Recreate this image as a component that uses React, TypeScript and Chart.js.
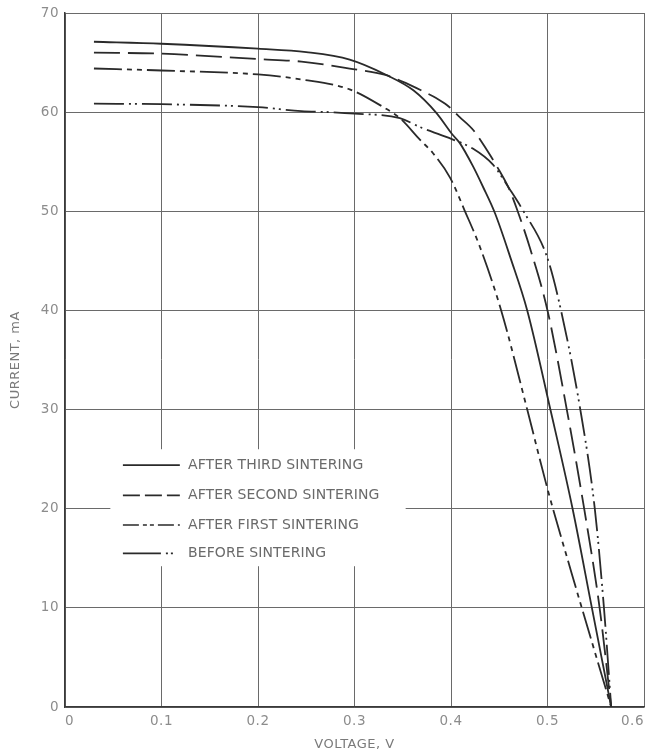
import React, { useEffect, useRef } from 'react';
import { Chart, registerables } from 'chart.js';

Chart.register(...registerables);

// ---- Data (voltage in V, current in mA) ----
const thirdV = [0.03, 0.1, 0.2, 0.25, 0.295, 0.332, 0.361, 0.385, 0.401, 0.409, 0.423, 0.433, 0.4456, 0.462, 0.479, 0.503, 0.526, 0.546, 0.566];
const thirdI = [67.1, 66.9, 66.4, 66.05, 65.3, 63.8, 62.2, 59.9, 57.8, 56.9, 54.5, 52.5, 49.8, 45.2, 40, 30, 20, 10, 0];

const secondV = [0.03, 0.1, 0.2, 0.245, 0.295, 0.332, 0.354, 0.371, 0.385, 0.396, 0.409, 0.423, 0.437, 0.4477, 0.46, 0.468, 0.4815, 0.5, 0.52, 0.538, 0.554, 0.566];
const secondI = [66.0, 65.9, 65.35, 65.1, 64.4, 63.75, 62.9, 62.1, 61.4, 60.7, 59.5, 58.2, 56.2, 54.5, 52.3, 50.3, 46.4, 40, 30, 20, 10, 0];

const firstV = [0.03, 0.1, 0.2, 0.245, 0.295, 0.33, 0.347, 0.368, 0.381, 0.399, 0.4145, 0.43, 0.452, 0.479, 0.5, 0.525, 0.566];
const firstI = [64.4, 64.2, 63.8, 63.3, 62.3, 60.5, 59.4, 57.2, 55.9, 53.4, 50.0, 46.4, 40, 30, 22, 13.5, 0];

const beforeV = [0.03, 0.1, 0.2, 0.245, 0.275, 0.3, 0.347, 0.37, 0.395, 0.423, 0.4435, 0.461, 0.4745, 0.4995, 0.514, 0.534, 0.549, 0.5585, 0.566];
const beforeI = [60.85, 60.8, 60.5, 60.1, 60.0, 59.85, 59.4, 58.4, 57.5, 56.3, 54.7, 52.2, 50.1, 45.4, 40, 30, 20, 10, 0];

const seriesLabels = ['AFTER THIRD SINTERING', 'AFTER SECOND SINTERING', 'AFTER FIRST SINTERING', 'BEFORE SINTERING'];

const xTicks = { min: 0, max: 0.6, step: 0.1 };
const yTicks = { min: 0, max: 70, step: 10 };

// ---- Styles ----
const LINE_COLOR = '#2a2a2a';
const dashes = [[], [26, 8], [28, 5, 5, 5, 5, 5], [30, 5, 2, 4, 2, 5]];
const legendDashes = [[], [17, 5], [16, 4, 4, 3, 4, 4], [38, 5, 2, 3, 2, 10]];

function pts(xs: number[], ys: number[]) {
  return xs.map((x, i) => ({ x, y: ys[i] }));
}

const spacingPlugin = {
  id: 'letterSpacing',
  beforeDraw(chart: any) {
    try { (chart.ctx as any).letterSpacing = '0.5px'; } catch (e) {}
  },
};

const legendPlugin = {
  id: 'boxLegend',
  afterDatasetsDraw(chart: any) {
    const { ctx, scales } = chart;
    const xs = scales.x;
    const ys = scales.y;
    const bx0 = xs.getPixelForValue(0.047);
    const bx1 = xs.getPixelForValue(0.353);
    const by0 = ys.getPixelForValue(26.0);
    const by1 = ys.getPixelForValue(14.2);
    ctx.save();
    ctx.fillStyle = '#ffffff';
    ctx.fillRect(bx0, by0, bx1 - bx0, by1 - by0);
    const rows = [24.4, 21.35, 18.35, 15.5];
    const lx0 = xs.getPixelForValue(0.06);
    const lx1 = xs.getPixelForValue(0.119);
    const tx = xs.getPixelForValue(0.1275);
    ctx.font = '14px "DejaVu Sans"';
    try { (ctx as any).letterSpacing = '0.1px'; } catch (e) {}
    ctx.textBaseline = 'middle';
    ctx.textAlign = 'left';
    rows.forEach((rv, i) => {
      const py = ys.getPixelForValue(rv);
      ctx.strokeStyle = LINE_COLOR;
      ctx.lineWidth = 1.6;
      ctx.setLineDash(legendDashes[i]);
      ctx.beginPath();
      ctx.moveTo(lx0, py);
      ctx.lineTo(lx1, py);
      ctx.stroke();
      ctx.setLineDash([]);
      ctx.fillStyle = '#6a6a6a';
      ctx.fillText(seriesLabels[i], tx, py);
    });
    ctx.restore();
  },
};

export default function App() {
  const ref = useRef<HTMLCanvasElement | null>(null);
  useEffect(() => {
    if (!ref.current) return;
    const allV = [thirdV, secondV, firstV, beforeV];
    const allI = [thirdI, secondI, firstI, beforeI];
    const chart = new Chart(ref.current, {
      type: 'scatter',
      data: {
        datasets: allV.map((v, i) => ({
          label: seriesLabels[i],
          data: pts(v, allI[i]),
          showLine: true,
          borderColor: LINE_COLOR,
          borderWidth: 1.8,
          borderDash: dashes[i],
          pointRadius: 0,
          fill: false,
          cubicInterpolationMode: 'monotone' as const,
        })),
      },
      options: {
        responsive: false,
        maintainAspectRatio: false,
        devicePixelRatio: 1,
        animation: false,
        layout: { padding: { top: 13, right: 1, left: 0, bottom: 0 } },
        plugins: { legend: { display: false }, tooltip: { enabled: false } },
        scales: {
          x: {
            type: 'linear',
            min: xTicks.min,
            max: xTicks.max,
            ticks: {
              stepSize: xTicks.step,
              color: '#8c8c8c',
              font: { family: 'DejaVu Sans', size: 13.5 },
              padding: 6,
              maxRotation: 0,
              align: 'inner',
              callback: (v: any) => (Number(v) === 0 ? '0' : Number(v).toFixed(1)),
            },
            grid: { color: '#6a6a6a', lineWidth: 1, drawTicks: false },
            border: { color: '#3a3a3a', width: 1.5 },
            title: {
              display: true,
              text: 'VOLTAGE, V',
              color: '#7a7a7a',
              font: { family: 'DejaVu Sans', size: 13 },
              padding: { top: 2, bottom: 2 },
            },
            afterFit: (s: any) => {
              s.height = 47;
              s.paddingLeft = 0;
              s.paddingRight = 0;
            },
          },
          y: {
            type: 'linear',
            min: yTicks.min,
            max: yTicks.max,
            ticks: {
              stepSize: yTicks.step,
              color: '#8c8c8c',
              font: { family: 'DejaVu Sans', size: 13.5 },
              padding: 6,
            },
            grid: { color: '#6a6a6a', lineWidth: 1, drawTicks: false },
            border: { color: '#3a3a3a', width: 1.5 },
            title: {
              display: true,
              text: 'CURRENT, mA',
              color: '#7a7a7a',
              font: { family: 'DejaVu Sans', size: 13 },
              padding: { top: 8, bottom: 2 },
            },
            afterFit: (s: any) => {
              s.width = 65;
              s.paddingTop = 0;
              s.paddingBottom = 0;
            },
          },
        },
      },
      plugins: [spacingPlugin, legendPlugin],
    });
    return () => chart.destroy();
  }, []);
  return (
    <div style={{ position: 'fixed', left: 0, top: 0, width: 645, height: 754, background: '#ffffff' }}>
      <canvas ref={ref} width={645} height={754} style={{ display: 'block', width: 645, height: 754 }} />
    </div>
  );
}
